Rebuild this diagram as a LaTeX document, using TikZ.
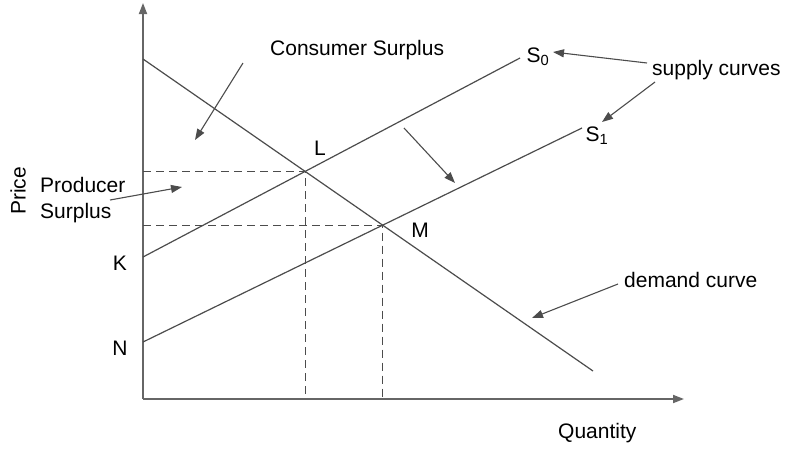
\documentclass[tikz,border=0pt]{standalone}
\usepackage{fontspec}
\setmainfont{Liberation Sans}
\usetikzlibrary{arrows.meta}
\begin{document}
\begin{tikzpicture}[x=1pt, y=-1pt, >={Triangle[length=11pt,width=8pt]},
    font=\fontsize{21}{26}\selectfont,
    axis/.style={draw=black!60, line width=1.8pt},
    curve/.style={draw=black!70, line width=1.2pt},
    guide/.style={draw=black!70, line width=1.1pt, dash pattern=on 8pt off 5pt},
    pointer/.style={draw=black!70, line width=1.1pt, ->},
    lbl/.style={inner sep=0pt}]
    \useasboundingbox (0,0) rectangle (789,448);
    % Axes
    \coordinate (O) at (143,399);
    \coordinate (ytop) at (143,3);
    \coordinate (xend) at (684,399);
    \draw[axis, ->] (O) -- (ytop);
    \draw[axis, ->] (O) -- (xend);
    \node[lbl, rotate=90] (price) at (18,191) {Price};
    \node[lbl, anchor=west] (quantity) at (558,433) {Quantity};
    % Demand and supply curves
    \coordinate (dtop) at (143,59);
    \coordinate (dend) at (593,371);
    \coordinate (k) at (143,257);
    \coordinate (s0end) at (520,58);
    \coordinate (n) at (143,342);
    \coordinate (s1end) at (582,128);
    \draw[curve] (dtop) -- (dend);
    \draw[curve] (k) -- (s0end);
    \draw[curve] (n) -- (s1end);
    \coordinate (l) at (intersection of dtop--dend and k--s0end);
    \coordinate (m) at (intersection of dtop--dend and n--s1end);
    % Equilibrium guides
    \draw[guide] (O |- l) -- (l) -- (l |- O);
    \draw[guide] (O |- m) -- (m) -- (m |- O);
    % Point labels
    \node[lbl] (klbl) at (120,263) {K};
    \node[lbl] (nlbl) at (120,348) {N};
    \node[lbl] (llbl) at (320,148) {L};
    \node[lbl] (mlbl) at (420,230) {M};
    \node[lbl] (s0lbl) at (538,57) {S\textsubscript{0}};
    \node[lbl] (s1lbl) at (597,136) {S\textsubscript{1}};
    % Surplus labels
    \node[lbl, anchor=west] (consumer) at (270,50) {Consumer Surplus};
    \node[lbl, anchor=west, align=left] (producer) at (40,200) {Producer\\Surplus};
    \coordinate (cstart) at (243,63);
    \coordinate (ctip) at (195,140);
    \draw[pointer] (cstart) -- (ctip);
    \coordinate (pstart) at (110,200);
    \coordinate (ptip) at (182,187);
    \draw[pointer] (pstart) -- (ptip);
    % Shift of supply
    \coordinate (shstart) at (404,128);
    \coordinate (shtip) at (455,183);
    \draw[pointer] (shstart) -- (shtip);
    % Curve names
    \node[lbl, anchor=west] (supply) at (652,70) {supply curves};
    \node[lbl, anchor=west] (demand) at (624,280) {demand curve};
    \coordinate (su0) at (647,63);
    \coordinate (su0tip) at (553,52);
    \coordinate (su1) at (655,82);
    \coordinate (su1tip) at (602,122);
    \draw[pointer] (su0) -- (su0tip);
    \draw[pointer] (su1) -- (su1tip);
    \coordinate (de) at (618,284);
    \coordinate (detip) at (532,318);
    \draw[pointer] (de) -- (detip);
\end{tikzpicture}
\end{document}
